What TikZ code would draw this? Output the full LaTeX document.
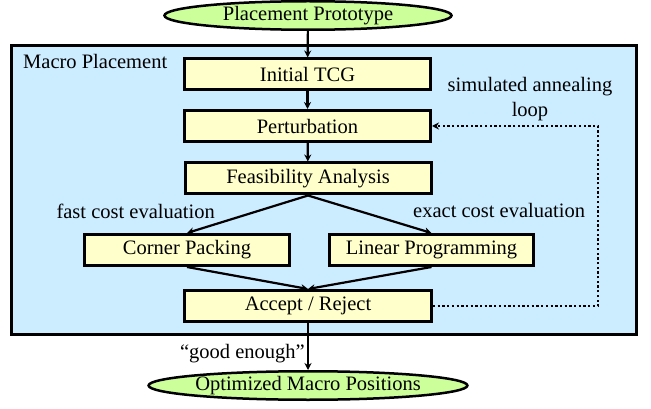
\documentclass[tikz,border=0pt]{standalone}
\usepackage{fontspec}
\setmainfont{Liberation Serif}
\usepackage{tikz}
\usetikzlibrary{arrows.meta,shapes.geometric}
\definecolor{cTerm} {RGB}{204,255,153}
\definecolor{cGroup}{RGB}{204,236,255}
\definecolor{cProc} {RGB}{255,255,204}
\tikzset{
  >={Stealth[length=7pt,width=7pt]},
  txt/.style={font=\fontsize{20.5}{24.6}\selectfont},
  proc/.style={txt,draw,line width=3pt,fill=cProc,minimum height=31pt,inner sep=0pt}, % step box
  term/.style={txt,draw,ellipse,line width=2.5pt,fill=cTerm,minimum width=287pt,
               minimum height=28.5pt,inner sep=0pt},                                 % start / end
  group/.style={draw,line width=3pt,fill=cGroup,minimum width=625pt,minimum height=289pt},
  lbl/.style={txt,inner sep=0pt},
  flow/.style={->,line width=2.2pt},
  loopline/.style={->,line width=2.3pt,dash pattern=on 2.3pt off 2.4pt},
}
\begin{document}
\begin{tikzpicture}[x=1pt,y=-1pt]
  \useasboundingbox (0,0) rectangle (651,409);
  % macro placement frame
  \node[group] (mp) at (324,190) {};
  \node[lbl,anchor=west] (mpLabel) at (23,61) {Macro Placement};

  % terminals
  \node[term] (proto) at (308,15.5)  {Placement Prototype};
  \node[term] (opt)   at (308,385.5) {Optimized Macro Positions};

  % steps
  \node[proc,minimum width=246pt] (tcg)  at (307.5,74.5) {Initial TCG};
  \node[proc,minimum width=246pt] (pert) at (307.5,126)  {Perturbation};
  \node[proc,minimum width=246pt] (feas) at (308,178.5)  {Feasibility Analysis};
  \node[proc,minimum width=205pt] (cp)   at (187,250)    {Corner Packing};
  \node[proc,minimum width=204pt] (lp)   at (431.5,250)  {Linear Programming};
  \node[proc,minimum width=247pt] (acc)  at (308,306)    {Accept / Reject};

  \draw[flow] (proto) -- (tcg);
  \draw[flow] (tcg) -- (pert);
  \draw[flow] (pert) -- (feas);
  \draw[flow] (feas.south) -- (cp.north);
  \draw[flow] (feas.south) -- (lp.north);
  \draw[flow] (cp.south) -- (acc.north);
  \draw[flow] (lp.south) -- (acc.north);
  \draw[flow] (acc) -- (opt);

  % annealing loop back to perturbation
  \coordinate (saTurn) at (598,126);
  \draw[loopline] (acc.east) -| (saTurn) -- (pert.east);

  \node[lbl,anchor=east] (fastLabel)  at (215,211) {fast cost evaluation};
  \node[lbl,anchor=west] (exactLabel) at (413,210) {exact cost evaluation};
  \node[lbl,align=center] (saLabel)   at (530,99)  {simulated annealing\\loop};
  \node[lbl,anchor=east] (goodLabel)  at (305,354) {“good enough”};
\end{tikzpicture}
\end{document}
